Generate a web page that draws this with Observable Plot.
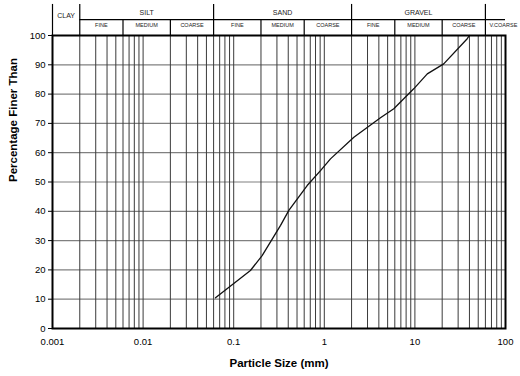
<!DOCTYPE html>
<html><head><meta charset="utf-8">
<script src="https://cdn.jsdelivr.net/npm/d3@7"></script>
<script src="https://cdn.jsdelivr.net/npm/@observablehq/plot@0.6"></script>
<style>
body{margin:0;background:#fff;}
</style>
</head><body><div id="chart"></div>
<script>
// Grading curve
const sizeMm       = [0.063, 0.153, 0.206, 0.329, 0.406, 0.647, 0.908, 1.17, 2.12, 4.17, 5.85, 9.7, 13.7, 20.8, 37.8, 40];
const percentFiner = [10.5, 19.8, 24.9, 35.2, 40.3, 48.8, 53.9, 57.9, 65.3, 71.9, 75.0, 81.8, 86.9, 90.3, 98.9, 100];

// Axis ticks
const xTicks = [0.001, 0.01, 0.1, 1, 10, 100];
const xTickLabels = ["0.001", "0.01", "0.1", "1", "10", "100"];
const yTicks = [0, 10, 20, 30, 40, 50, 60, 70, 80, 90, 100];
const gridMultipliers = [1, 2, 3, 4, 5, 6, 7, 8, 9];
const gridDecades = [0.001, 0.01, 0.1, 1, 10];

// Soil classification header
const mainLabels = ["CLAY", "SILT", "SAND", "GRAVEL"];
const mainFrom   = [0.001, 0.002, 0.06, 2];
const mainTo     = [0.002, 0.06, 2, 60];
const subLabels  = ["FINE", "MEDIUM", "COARSE", "FINE", "MEDIUM", "COARSE", "FINE", "MEDIUM", "COARSE"];
const subFrom    = [0.002, 0.006, 0.02, 0.06, 0.2, 0.6, 2, 6, 20];
const subTo      = [0.006, 0.02, 0.06, 0.2, 0.6, 2, 6, 20, 60];
const extraLabel = "V.COARSE";
const extraFrom  = 60;
const majorBounds = [0.001, 0.002, 0.06, 2, 60];
const minorBounds = [0.006, 0.02, 0.2, 0.6, 6, 20];

const xTitle = "Particle Size (mm)";
const yTitle = "Percentage Finer Than";

// header rows (in y units above 100)
const HEAD_MID = 105.4, HEAD_TOP = 110.6, HEAD_MAIN_Y = 107.9, HEAD_CLAY_Y = 106.9, HEAD_SUB_Y = 103.4;

const curve = sizeMm.map((x, i) => ({x, y: percentFiner[i]}));
const gridX = [];
gridDecades.forEach(d => gridMultipliers.forEach(k => gridX.push(+(k * d).toPrecision(3))));
gridX.push(100);
const gmean = (a, b) => Math.sqrt(a * b);
const mains = mainLabels.map((t, i) => ({t, x: gmean(mainFrom[i], mainTo[i]), clay: i === 0}));
const subs = subLabels.map((t, i) => ({t, x: gmean(subFrom[i], subTo[i])}));

const chart = Plot.plot({
  width: 520,
  height: 376,
  marginLeft: 52,
  marginRight: 15,
  marginTop: 35,
  marginBottom: 48,
  style: {fontFamily: "'Liberation Sans', Arial, sans-serif", background: "#fff", color: "#000"},
  x: {type: "log", domain: [0.001, 100]},
  y: {domain: [0, 100]},
  marks: [
    Plot.ruleY(yTicks, {stroke: "#808080", strokeWidth: 1.2}),
    Plot.ruleX(gridX, {y1: 0, y2: 100, stroke: "#3a3a3a", strokeWidth: 1}),
    Plot.line(curve, {x: "x", y: "y", stroke: "#111", strokeWidth: 1.3}),
    Plot.frame({stroke: "#000", strokeWidth: 2}),
    // header
    Plot.ruleX(majorBounds, {y1: 100, y2: HEAD_TOP, stroke: "#000", strokeWidth: 1.2}),
    Plot.ruleX(minorBounds, {y1: 100, y2: HEAD_MID, stroke: "#000", strokeWidth: 1.2}),
    Plot.ruleY([HEAD_MID], {x1: 0.002, x2: 100, stroke: "#000", strokeWidth: 1.2}),
    Plot.text(mains, {x: "x", y: d => d.clay ? HEAD_CLAY_Y : HEAD_MAIN_Y, text: "t", fontSize: 7, fill: "#222"}),
    Plot.text(subs, {x: "x", y: HEAD_SUB_Y, text: "t", fontSize: 5.5, fill: "#222"}),
    Plot.text([extraLabel], {x: extraFrom, y: HEAD_SUB_Y, text: d => d, textAnchor: "start", dx: 4, fontSize: 5.5, fill: "#222"}),
    // axes
    Plot.axisY({ticks: yTicks, tickSize: 4, tickPadding: 3, fontSize: 9.5, label: null}),
    Plot.axisX({ticks: xTicks, tickFormat: (d, i) => xTickLabels[xTicks.indexOf(d)], tickSize: 0, tickPadding: 10, fontSize: 9.5, label: null}),
    Plot.text([xTitle], {frameAnchor: "bottom", dy: 38, text: d => d, fontSize: 11.5, fontWeight: "bold"}),
    Plot.text([yTitle], {frameAnchor: "left", dx: -39, rotate: -90, dy: 0, text: d => d, fontSize: 11.5, fontWeight: "bold"})
  ]
});
document.getElementById("chart").appendChild(chart);
</script>
</body></html>
